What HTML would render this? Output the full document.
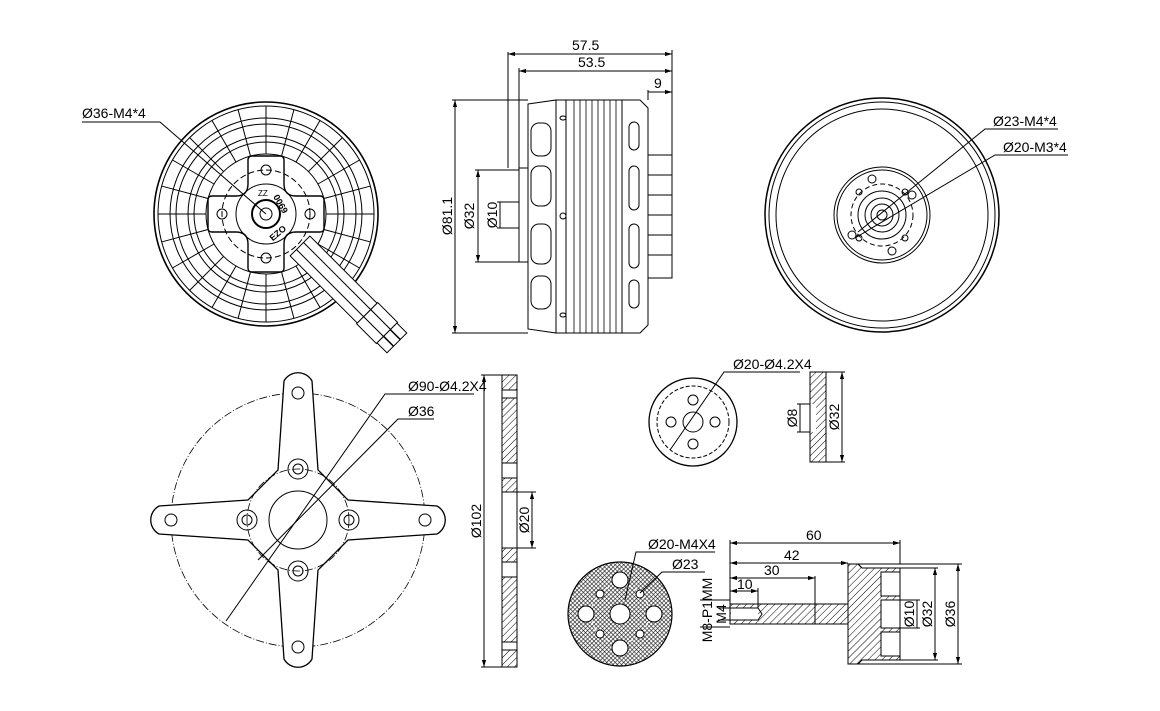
<!DOCTYPE html>
<html><head><meta charset="utf-8"><style>
html,body{margin:0;padding:0;background:#fff;width:1160px;height:711px;overflow:hidden}
svg{display:block}
text{font-family:"Liberation Sans",Arial,sans-serif;font-size:14px;fill:#000}
</style></head><body>
<svg width="1160" height="711" viewBox="0 0 1160 711" xmlns="http://www.w3.org/2000/svg">
<defs>
<pattern id="h" width="5" height="5" patternUnits="userSpaceOnUse" patternTransform="rotate(45)"><line x1="0" y1="0" x2="0" y2="5" stroke="#000" stroke-width="1"/></pattern>
<pattern id="x" width="3" height="3" patternUnits="userSpaceOnUse" patternTransform="rotate(45)"><path d="M0 0V3M0 0H3" stroke="#222" stroke-width="1.3"/></pattern>
<marker id="a" viewBox="0 0 10 10" refX="10" refY="5" markerWidth="7" markerHeight="7" orient="auto-start-reverse"><path d="M0 2L10 5L0 8z" fill="#000"/></marker>
</defs>
<g fill="none" stroke="#000" stroke-width="1">

<!-- TOP LEFT MOTOR -->
<g transform="translate(266,214)">
<circle r="112" stroke-width="1.6"/><circle r="108"/><circle r="96"/><circle r="90"/><circle r="78"/><circle r="72"/><circle r="60"/>
<g id="rib">
<line x1="0" y1="-60" x2="0" y2="-108"/>
</g>
<use href="#rib" transform="rotate(15)"/><use href="#rib" transform="rotate(30)"/><use href="#rib" transform="rotate(45)"/><use href="#rib" transform="rotate(60)"/><use href="#rib" transform="rotate(75)"/><use href="#rib" transform="rotate(90)"/><use href="#rib" transform="rotate(105)"/><use href="#rib" transform="rotate(120)"/><use href="#rib" transform="rotate(135)"/><use href="#rib" transform="rotate(150)"/><use href="#rib" transform="rotate(165)"/><use href="#rib" transform="rotate(180)"/><use href="#rib" transform="rotate(195)"/><use href="#rib" transform="rotate(210)"/><use href="#rib" transform="rotate(225)"/><use href="#rib" transform="rotate(240)"/><use href="#rib" transform="rotate(255)"/><use href="#rib" transform="rotate(270)"/><use href="#rib" transform="rotate(285)"/><use href="#rib" transform="rotate(300)"/><use href="#rib" transform="rotate(315)"/><use href="#rib" transform="rotate(330)"/><use href="#rib" transform="rotate(345)"/>
<path d="M-14 -58 H14 Q18 -58 18 -54 V-30 Q18 -18 30 -18 H54 Q58 -18 58 -14 V14 Q58 18 54 18 H30 Q18 18 18 30 V54 Q18 58 14 58 H-14 Q-18 58 -18 54 V30 Q-18 18 -30 18 H-54 Q-58 18 -58 14 V-14 Q-58 -18 -54 -18 H-30 Q-18 -18 -18 -30 V-54 Q-18 -58 -14 -58Z" fill="#fff" stroke-width="1.4"/>
<circle cy="-44" r="5"/><circle cy="44" r="5"/><circle cx="-44" r="5"/><circle cx="44" r="5"/>
<circle r="44" stroke-dasharray="6 3"/>
<circle r="30"/><circle r="14" stroke-width="2"/><circle r="6"/>
<text x="-8" y="-18" stroke="none" style="font-size:8px">ZZ</text>
<text x="4" y="-12" transform="rotate(60 10 -12)" stroke="none" style="font-size:9px;font-weight:bold">0069</text>
<text x="4" y="24" transform="rotate(-40 10 22)" stroke="none" style="font-size:9px;font-weight:bold">EZO</text>
</g>
<!-- wires -->
<g transform="translate(300,246) rotate(45)" fill="#fff">
<rect x="0" y="-14" width="95" height="28"/>
<line x1="0" y1="-5" x2="95" y2="-5"/><line x1="0" y1="5" x2="95" y2="5"/>
<rect x="95" y="-15" width="28" height="10"/><rect x="95" y="-5" width="28" height="10"/><rect x="95" y="5" width="28" height="10"/>
<rect x="123" y="-14" width="14" height="9"/><rect x="123" y="-4.5" width="14" height="9"/><rect x="123" y="5" width="14" height="9"/>
</g>
<path d="M82 122 H160 L266 214"/>

<!-- SIDE VIEW -->
<path d="M528 104 L556 100 V333 L528 329Z"/>
<rect x="556" y="100" width="66" height="233"/>
<line x1="566" y1="100" x2="566" y2="333"/>
<g stroke-width="0.8">
<line x1="574" y1="100" x2="574" y2="333"/><line x1="580" y1="100" x2="580" y2="333"/><line x1="586" y1="100" x2="586" y2="333"/><line x1="592" y1="100" x2="592" y2="333"/><line x1="598" y1="100" x2="598" y2="333"/><line x1="604" y1="100" x2="604" y2="333"/><line x1="610" y1="100" x2="610" y2="333"/><line x1="616" y1="100" x2="616" y2="333"/>
</g>
<path d="M622 100 H640 L648 108 V325 L640 333 H622Z"/>
<rect x="648" y="155" width="24" height="123"/>
<line x1="648" y1="175" x2="672" y2="175"/><line x1="648" y1="195" x2="672" y2="195"/><line x1="648" y1="215" x2="672" y2="215"/><line x1="648" y1="235" x2="672" y2="235"/><line x1="648" y1="255" x2="672" y2="255"/>
<rect x="519" y="168" width="9" height="94"/>
<rect x="531" y="123" width="20" height="33" rx="8"/><rect x="531" y="166" width="20" height="40" rx="8"/><rect x="531" y="224" width="20" height="40" rx="8"/><rect x="531" y="276" width="20" height="33" rx="8"/>
<rect x="629" y="122" width="10" height="28" rx="5"/><rect x="629" y="166" width="10" height="44" rx="5"/><rect x="629" y="224" width="10" height="44" rx="5"/><rect x="629" y="280" width="10" height="28" rx="5"/>
<circle cx="563" cy="216" r="3"/><ellipse cx="563" cy="118" rx="3" ry="2"/><ellipse cx="563" cy="315" rx="3" ry="2"/>
<line x1="508" y1="52" x2="508" y2="168"/><line x1="519" y1="68" x2="519" y2="168"/><line x1="672" y1="50" x2="672" y2="155"/><line x1="648" y1="90" x2="648" y2="100"/>
<line x1="508" y1="54" x2="672" y2="54" marker-start="url(#a)" marker-end="url(#a)"/>
<line x1="519" y1="71" x2="672" y2="71" marker-start="url(#a)" marker-end="url(#a)"/>
<line x1="648" y1="92" x2="672" y2="92" marker-end="url(#a)"/>
<line x1="452" y1="100" x2="528" y2="100"/><line x1="452" y1="333" x2="528" y2="333"/>
<line x1="455" y1="100" x2="455" y2="333" marker-start="url(#a)" marker-end="url(#a)"/>
<line x1="475" y1="170" x2="519" y2="170"/><line x1="475" y1="262" x2="519" y2="262"/>
<line x1="478" y1="170" x2="478" y2="262" marker-start="url(#a)" marker-end="url(#a)"/>
<line x1="497" y1="202" x2="519" y2="202"/><line x1="497" y1="228" x2="519" y2="228"/>
<line x1="500" y1="202" x2="500" y2="228"/>

<!-- TOP RIGHT -->
<g transform="translate(882,215)">
<circle r="117" stroke-width="1.5"/><circle r="113"/><circle r="106"/>
<circle r="48"/><circle r="45"/><circle r="31" stroke-dasharray="5 3"/><circle r="24"/><circle r="17"/><circle r="11"/><circle r="5"/>
<circle cx="-10" cy="-36" r="4"/><circle cx="30" cy="-20" r="4"/><circle cx="10" cy="36" r="4"/><circle cx="-30" cy="20" r="4"/>
<circle cx="-23" cy="-23" r="3"/><circle cx="23" cy="-23" r="3"/><circle cx="23" cy="23" r="3"/><circle cx="-23" cy="23" r="3"/>
</g>
<path d="M1058 129 H985 L858 232"/>
<path d="M1068 155 H995 L855 238"/>

<!-- BOTTOM LEFT FLANGE -->
<g transform="translate(298,520)">
<circle r="127" stroke-dasharray="8 2 1 2" stroke-width="0.8"/>
<path d="M-14 -139 A16 16 0 0 1 14 -139 L20 -50 L50 -20 L139 -14 A16 16 0 0 1 139 14 L50 20 L20 50 L14 139 A16 16 0 0 1 -14 139 L-20 50 L-50 20 L-139 14 A16 16 0 0 1 -139 -14 L-50 -20 L-20 -50 Z" fill="#fff" stroke-width="1.3"/>
<circle r="51" stroke-dasharray="8 2 1 2" stroke-width="0.8"/>
<circle r="29"/>
<circle cy="-51" r="10"/><circle cy="-51" r="5"/><circle cy="51" r="10"/><circle cy="51" r="5"/><circle cx="-51" r="10"/><circle cx="-51" r="5"/><circle cx="51" r="10"/><circle cx="51" r="5"/>
<circle cy="-127" r="6"/><circle cy="127" r="6"/><circle cx="-127" r="6"/><circle cx="127" r="6"/>
</g>
<path d="M474 394 H385 L226 621"/>
<path d="M434 419 H398 L258 560"/>
<rect x="502" y="375" width="15" height="15" fill="url(#h)"/>
<rect x="502" y="398" width="15" height="65" fill="url(#h)"/>
<rect x="502" y="478" width="15" height="14" fill="url(#h)"/>
<rect x="502" y="548" width="15" height="14" fill="url(#h)"/>
<rect x="502" y="577" width="15" height="65" fill="url(#h)"/>
<rect x="502" y="650" width="15" height="17" fill="url(#h)"/>
<rect x="502" y="375" width="15" height="292"/>
<line x1="481" y1="375" x2="502" y2="375"/><line x1="481" y1="667" x2="502" y2="667"/>
<line x1="484" y1="375" x2="484" y2="667" marker-start="url(#a)" marker-end="url(#a)"/>
<line x1="517" y1="492" x2="536" y2="492"/><line x1="517" y1="548" x2="536" y2="548"/>
<line x1="532" y1="492" x2="532" y2="548" marker-start="url(#a)" marker-end="url(#a)"/>

<!-- MIDDLE RIGHT small -->
<g transform="translate(693,422)">
<circle r="44" stroke-width="1.3"/><circle r="36" stroke-dasharray="4 2"/><circle r="10"/>
<circle cy="-22" r="5"/><circle cy="22" r="5"/><circle cx="-22" r="5"/><circle cx="22" r="5"/>
</g>
<path d="M800 372 H724 L670 450"/>
<rect x="810" y="372" width="16" height="90" fill="url(#h)"/>
<rect x="810" y="404" width="6" height="28" fill="#fff" stroke="none"/>
<rect x="810" y="372" width="16" height="90"/>
<line x1="797" y1="404" x2="810" y2="404"/><line x1="797" y1="432" x2="810" y2="432"/>
<line x1="800" y1="404" x2="800" y2="432"/>
<line x1="826" y1="372" x2="845" y2="372"/><line x1="826" y1="462" x2="845" y2="462"/>
<line x1="842" y1="372" x2="842" y2="462" marker-start="url(#a)" marker-end="url(#a)"/>

<!-- BOTTOM disc -->
<circle cx="620" cy="614" r="52" fill="url(#x)" stroke-width="1.2"/>
<circle cx="620" cy="614" r="29" stroke="#fff" stroke-dasharray="5 3"/>
<g fill="#fff">
<circle cx="620" cy="580" r="8"/><circle cx="620" cy="648" r="8"/><circle cx="586" cy="614" r="8"/><circle cx="654" cy="614" r="8"/>
<circle cx="620" cy="614" r="10"/>
<circle cx="600" cy="594" r="4"/><circle cx="640" cy="594" r="4"/><circle cx="600" cy="634" r="4"/><circle cx="640" cy="634" r="4"/>
</g>
<path d="M715 552 H636 L625 600"/>
<path d="M705 572 H662 L640 593"/>
<!-- shaft -->
<rect x="730" y="604" width="118" height="20" fill="url(#h)"/>
<rect x="731" y="608" width="27" height="12" fill="#fff" stroke="none"/>
<path d="M730 608 H758 L762 614 L758 620 H730"/>
<rect x="730" y="604" width="118" height="20"/>
<line x1="815" y1="604" x2="815" y2="624"/>
<path d="M848 564 H858 L862 568 H900 V660 H862 L858 664 H848Z" fill="url(#h)"/>
<rect x="881" y="572" width="19" height="24" fill="#fff" stroke="none"/>
<rect x="881" y="632" width="19" height="24" fill="#fff" stroke="none"/>
<rect x="881" y="600" width="19" height="28" fill="#fff" stroke="none"/>
<path d="M848 564 H858 L862 568 H900 V660 H862 L858 664 H848Z"/>
<path d="M900 572 H881 V596 H900 M900 600 H881 V628 H900 M900 632 H881 V656 H900"/>
<line x1="730" y1="540" x2="730" y2="604"/><line x1="900" y1="540" x2="900" y2="564"/><line x1="815" y1="576" x2="815" y2="604"/><line x1="758" y1="588" x2="758" y2="608"/>
<line x1="730" y1="543" x2="900" y2="543" marker-start="url(#a)" marker-end="url(#a)"/>
<line x1="730" y1="563" x2="848" y2="563" marker-start="url(#a)" marker-end="url(#a)"/>
<line x1="730" y1="578" x2="815" y2="578" marker-start="url(#a)" marker-end="url(#a)"/>
<line x1="730" y1="591" x2="758" y2="591" marker-start="url(#a)" marker-end="url(#a)"/>
<line x1="700" y1="600" x2="730" y2="600"/><line x1="700" y1="627" x2="730" y2="627"/>
<line x1="718" y1="608" x2="730" y2="608"/><line x1="718" y1="620" x2="730" y2="620"/>
<line x1="900" y1="600" x2="920" y2="600"/><line x1="900" y1="628" x2="920" y2="628"/>
<line x1="917" y1="600" x2="917" y2="628"/>
<line x1="900" y1="568" x2="938" y2="568"/><line x1="900" y1="660" x2="938" y2="660"/>
<line x1="935" y1="568" x2="935" y2="660" marker-start="url(#a)" marker-end="url(#a)"/>
<line x1="848" y1="564" x2="962" y2="564"/><line x1="848" y1="664" x2="962" y2="664"/>
<line x1="958" y1="564" x2="958" y2="664" marker-start="url(#a)" marker-end="url(#a)"/>
</g>

<g stroke="none">
<text x="82" y="118">Ø36-M4*4</text>
<text x="572" y="50">57.5</text>
<text x="578" y="67">53.5</text>
<text x="654" y="88">9</text>
<text transform="translate(452,216) rotate(-90)" text-anchor="middle">Ø81.1</text>
<text transform="translate(474,216) rotate(-90)" text-anchor="middle">Ø32</text>
<text transform="translate(497,215) rotate(-90)" text-anchor="middle">Ø10</text>
<text x="993" y="126">Ø23-M4*4</text>
<text x="1003" y="152">Ø20-M3*4</text>
<text x="408" y="391">Ø90-Ø4.2X4</text>
<text x="408" y="416">Ø36</text>
<text transform="translate(481,521) rotate(-90)" text-anchor="middle">Ø102</text>
<text transform="translate(529,520) rotate(-90)" text-anchor="middle">Ø20</text>
<text x="733" y="369">Ø20-Ø4.2X4</text>
<text transform="translate(797,418) rotate(-90)" text-anchor="middle">Ø8</text>
<text transform="translate(839,417) rotate(-90)" text-anchor="middle">Ø32</text>
<text x="648" y="549">Ø20-M4X4</text>
<text x="672" y="569">Ø23</text>
<text x="806" y="540">60</text>
<text x="784" y="560">42</text>
<text x="764" y="575">30</text>
<text x="737" y="589">10</text>
<text transform="translate(712,610) rotate(-90)" text-anchor="middle">M8-P1MM</text>
<text transform="translate(726,614) rotate(-90)" text-anchor="middle">M4</text>
<text transform="translate(914,614) rotate(-90)" text-anchor="middle">Ø10</text>
<text transform="translate(932,614) rotate(-90)" text-anchor="middle">Ø32</text>
<text transform="translate(955,614) rotate(-90)" text-anchor="middle">Ø36</text>
</g>
</svg>
</body></html>
